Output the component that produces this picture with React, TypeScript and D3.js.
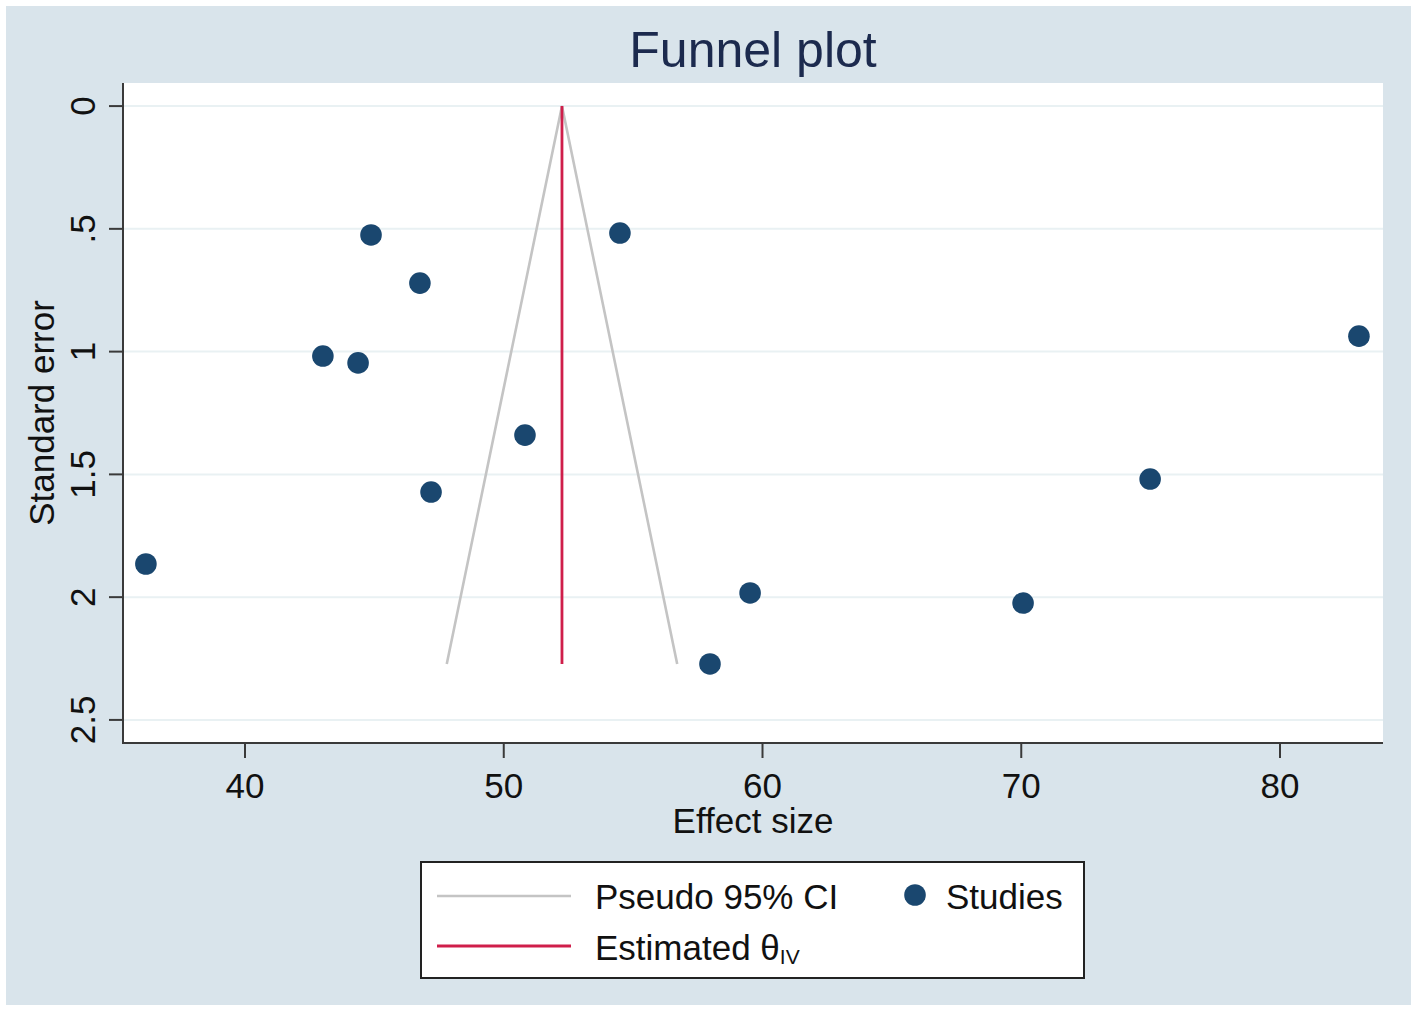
import { useEffect, useRef } from 'react'
import * as d3 from 'd3'

const effectSize = [44.87, 54.49, 46.76, 43.01, 44.37, 50.82, 47.19, 36.17, 59.52, 57.97, 70.07, 74.98, 83.05]
const standardError = [0.525, 0.517, 0.721, 1.018, 1.046, 1.34, 1.572, 1.865, 1.983, 2.272, 2.024, 1.519, 0.937]
const thetaIV = 52.25
const xTicks = [40, 50, 60, 70, 80]
const yTicks = [0, 0.5, 1, 1.5, 2, 2.5]
const yTickLabels = ['0', '.5', '1', '1.5', '2', '2.5']

const W = 1418
const H = 1012
const FONT = '"Liberation Sans", Arial, sans-serif'
const BG = '#d9e4eb'
const NAVY = '#1a476f'
const RED = '#cf1e4a'
const GRAY = '#c4c4c4'

export default function App() {
  const svgRef = useRef<SVGSVGElement>(null)

  useEffect(() => {
    if (!svgRef.current) return
    const svg = d3.select(svgRef.current)
    svg.selectAll('*').remove()

    const plot = { left: 123, right: 1383, top: 83, bottom: 743 }

    const x = d3.scaleLinear().domain([35.285, 83.98]).range([plot.left, plot.right])
    const y = d3.scaleLinear().domain([-0.094, 2.594]).range([plot.top, plot.bottom])

    svg.append('rect').attr('width', W).attr('height', H).attr('fill', '#fff')
    svg.append('rect').attr('x', 6).attr('y', 6).attr('width', 1405).attr('height', 999).attr('fill', BG)
    svg.append('rect')
      .attr('x', plot.left).attr('y', plot.top)
      .attr('width', plot.right - plot.left).attr('height', plot.bottom - plot.top)
      .attr('fill', '#fff')

    // gridlines
    svg.append('g')
      .selectAll('line')
      .data(yTicks)
      .join('line')
      .attr('x1', plot.left).attr('x2', plot.right)
      .attr('y1', d => y(d)).attr('y2', d => y(d))
      .attr('stroke', '#e9f1f3').attr('stroke-width', 2)

    // funnel
    const maxSE = d3.max(standardError) as number
    const funnel: [number, number][] = [
      [thetaIV - 1.96 * maxSE, maxSE],
      [thetaIV, 0],
      [thetaIV + 1.96 * maxSE, maxSE],
    ]
    svg.append('path')
      .datum(funnel)
      .attr('fill', 'none')
      .attr('stroke', GRAY)
      .attr('stroke-width', 2.6)
      .attr('d', d3.line<[number, number]>().x(d => x(d[0])).y(d => y(d[1])))

    svg.append('line')
      .attr('x1', x(thetaIV)).attr('x2', x(thetaIV))
      .attr('y1', y(0)).attr('y2', y(maxSE))
      .attr('stroke', RED).attr('stroke-width', 2.8)

    // studies
    svg.append('g')
      .selectAll('circle')
      .data(effectSize.map((e, i) => ({ e, se: standardError[i] })))
      .join('circle')
      .attr('cx', d => x(d.e))
      .attr('cy', d => y(d.se))
      .attr('r', 10.8)
      .attr('fill', NAVY)

    // axes
    const axisColor = '#3a3a3a'
    svg.append('line')
      .attr('x1', plot.left).attr('x2', plot.left)
      .attr('y1', plot.top).attr('y2', plot.bottom + 1)
      .attr('stroke', axisColor).attr('stroke-width', 2)
    svg.append('line')
      .attr('x1', plot.left - 1).attr('x2', plot.right)
      .attr('y1', plot.bottom).attr('y2', plot.bottom)
      .attr('stroke', axisColor).attr('stroke-width', 2)

    svg.append('g')
      .selectAll('line')
      .data(yTicks)
      .join('line')
      .attr('x1', plot.left - 14).attr('x2', plot.left)
      .attr('y1', d => y(d)).attr('y2', d => y(d))
      .attr('stroke', axisColor).attr('stroke-width', 2)

    svg.append('g')
      .selectAll('text')
      .data(yTicks)
      .join('text')
      .attr('transform', d => `translate(95,${y(d)}) rotate(-90)`)
      .attr('text-anchor', 'middle')
      .attr('font-family', FONT)
      .attr('font-size', 35)
      .attr('fill', '#111')
      .text((_, i) => yTickLabels[i])

    svg.append('g')
      .selectAll('line')
      .data(xTicks)
      .join('line')
      .attr('x1', d => x(d)).attr('x2', d => x(d))
      .attr('y1', plot.bottom).attr('y2', plot.bottom + 15)
      .attr('stroke', axisColor).attr('stroke-width', 2)

    svg.append('g')
      .selectAll('text')
      .data(xTicks)
      .join('text')
      .attr('x', d => x(d))
      .attr('y', 798)
      .attr('text-anchor', 'middle')
      .attr('font-family', FONT)
      .attr('font-size', 35)
      .attr('fill', '#111')
      .text(d => String(d))

    // axis titles
    svg.append('text')
      .attr('x', (plot.left + plot.right) / 2).attr('y', 833)
      .attr('text-anchor', 'middle')
      .attr('font-family', FONT).attr('font-size', 35).attr('fill', '#111')
      .text('Effect size')

    svg.append('text')
      .attr('transform', `translate(54,${(plot.top + plot.bottom) / 2}) rotate(-90)`)
      .attr('text-anchor', 'middle')
      .attr('font-family', FONT).attr('font-size', 35).attr('fill', '#111')
      .text('Standard error')

    svg.append('text')
      .attr('x', (plot.left + plot.right) / 2).attr('y', 67)
      .attr('text-anchor', 'middle')
      .attr('font-family', FONT).attr('font-size', 50).attr('fill', '#1c2a4e')
      .text('Funnel plot')

    // legend
    const lg = svg.append('g')
    lg.append('rect')
      .attr('x', 421).attr('y', 862).attr('width', 663).attr('height', 116)
      .attr('fill', '#fff').attr('stroke', '#222').attr('stroke-width', 2)
    lg.append('line')
      .attr('x1', 437).attr('x2', 571).attr('y1', 896).attr('y2', 896)
      .attr('stroke', GRAY).attr('stroke-width', 2.6)
    lg.append('line')
      .attr('x1', 437).attr('x2', 571).attr('y1', 946).attr('y2', 946)
      .attr('stroke', RED).attr('stroke-width', 2.8)
    lg.append('circle').attr('cx', 915).attr('cy', 895).attr('r', 10.8).attr('fill', NAVY)
    lg.append('text')
      .attr('x', 595).attr('y', 909)
      .attr('font-family', FONT).attr('font-size', 35).attr('fill', '#111')
      .text('Pseudo 95% CI')
    lg.append('text')
      .attr('x', 946).attr('y', 909)
      .attr('font-family', FONT).attr('font-size', 35).attr('fill', '#111')
      .text('Studies')
    const est = lg.append('text')
      .attr('x', 595).attr('y', 960)
      .attr('font-family', FONT).attr('font-size', 35).attr('fill', '#111')
    est.append('tspan').text('Estimated θ')
    est.append('tspan').attr('font-size', 21).attr('dy', 4).text('IV')
  }, [])

  return (
    <div style={{ position: 'absolute', left: 0, top: 0, width: W, height: H }}>
      <svg ref={svgRef} width={W} height={H} style={{ display: 'block' }} />
    </div>
  )
}
